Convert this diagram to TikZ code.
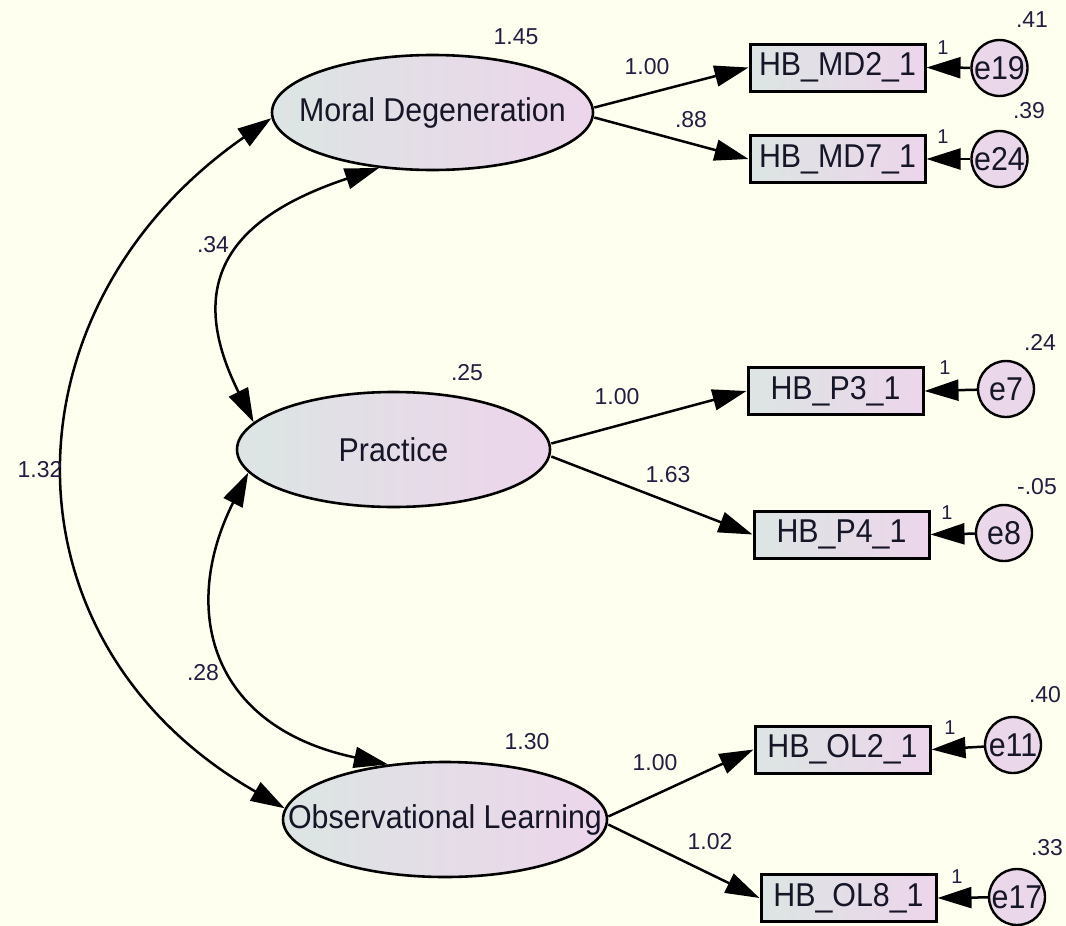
\documentclass[tikz,border=0pt]{standalone}
\usepackage{fontspec}
\setmainfont{Liberation Sans}
\newfontfamily\namefont{Liberation Sans}[FakeStretch=0.92]
\usetikzlibrary{shapes.geometric,arrows.meta}
\definecolor{paper}{RGB}{255,255,240}
\definecolor{shadeL}{RGB}{220,229,227}
\definecolor{shadeR}{RGB}{237,213,235}
\definecolor{errfill}{RGB}{234,216,234}
\definecolor{ink}{RGB}{22,22,40}
\definecolor{numink}{RGB}{35,30,65}
\begin{document}
\begin{tikzpicture}[x=1pt,y=-1pt,
  nametext/.style={font=\namefont\fontsize{33}{36}\selectfont,text=ink},
  latent/.style={ellipse,draw=black,line width=2.6pt,left color=shadeL,right color=shadeR,inner sep=0pt},
  observed/.style={rectangle,draw=black,line width=3pt,left color=shadeL,right color=shadeR,
    minimum width=175pt,minimum height=47pt,inner sep=0pt,nametext},
  errterm/.style={circle,draw=black,line width=2.4pt,fill=errfill,minimum size=56pt,inner sep=0pt},
  est/.style={font=\fontsize{23}{25}\selectfont,text=numink,inner sep=0pt},
  fixone/.style={font=\fontsize{20}{22}\selectfont,text=numink,inner sep=0pt},
  loading/.style={line width=2.5pt,-{Triangle[length=34pt,width=21pt]}},
  cov/.style={line width=2.5pt,{Triangle[length=34pt,width=21pt]}-{Triangle[length=34pt,width=21pt]}},
]
% canvas
\fill[paper] (0,0) rectangle (1066,926);
\useasboundingbox (0,0) rectangle (1066,926);

% latent factors
\node[latent,minimum width=321pt,minimum height=115pt,label={[nametext]center:Moral Degeneration}] (md) at (432.5,112.5) {};
\node[latent,minimum width=313pt,minimum height=115pt,label={[nametext]center:Practice}] (pr) at (393.5,449.5) {};
\node[latent,minimum width=324pt,minimum height=115pt,label={[nametext]center:Observational Learning}] (ol) at (445,819.5) {};

% indicators
\node[observed] (md2) at (837.5,67.5) {HB\_MD2\_1};
\node[observed] (md7) at (837.5,159) {HB\_MD7\_1};
\node[observed] (p3) at (835.5,391) {HB\_P3\_1};
\node[observed] (p4) at (841.5,534.5) {HB\_P4\_1};
\node[observed] (ol2) at (842.5,749.5) {HB\_OL2\_1};
\node[observed] (ol8) at (848.5,898) {HB\_OL8\_1};

% error terms
\node[errterm,label={[nametext]center:e19}] (e19) at (999.5,68) {};
\node[errterm,label={[nametext]center:e24}] (e24) at (999.5,159) {};
\node[errterm,label={[nametext]center:e7}] (e7) at (1006,389) {};
\node[errterm,label={[nametext]center:e8}] (e8) at (1004,533) {};
\node[errterm,label={[nametext]center:e11}] (e11) at (1013,745) {};
\node[errterm,label={[nametext]center:e17}] (e17) at (1017,897) {};

% factor loadings
\draw[loading] ([yshift=5pt]md.east) -- (md2.west);
\draw[loading] ([yshift=-5pt]md.east) -- (md7.west);
\draw[loading] ([yshift=6pt]pr.east) -- (p3.west);
\draw[loading] ([yshift=-7pt]pr.east) -- (p4.west);
\draw[loading] ([yshift=3pt]ol.east) -- (ol2.west);
\draw[loading] ([yshift=-5pt]ol.east) -- (ol8.west);

% error paths
\draw[loading] (e19) -- (md2.east);
\draw[loading] (e24) -- (md7.east);
\draw[loading] (e7) -- (p3.east);
\draw[loading] (e8) -- (p4.east);
\draw[loading] (e11) -- (ol2.east);
\draw[loading] (e17) -- (ol8.east);

% covariances
\draw[cov] (md.182) .. controls +(-273,190) and +(-290,-166) .. (ol.176);
\draw[cov] (md.226.6) .. controls +(-150,50) and +(-70,-140) .. (pr.169);
\draw[cov] (pr.189) .. controls +(-68,135) and +(-180,-38) .. (ol.136.3);

% variances
\node[est] (vmd) at (516,37) {1.45};
\node[est] (vpr) at (467,373) {.25};
\node[est] (vol) at (527,742) {1.30};
\node[est] (ve19) at (1032,20) {.41};
\node[est] (ve24) at (1029,111) {.39};
\node[est] (ve7) at (1040,342) {.24};
\node[est] (ve8) at (1037,487) {-.05};
\node[est] (ve11) at (1045,695) {.40};
\node[est] (ve17) at (1047,848) {.33};

% loading estimates
\node[est] (lmd2) at (647,67) {1.00};
\node[est] (lmd7) at (691,120) {.88};
\node[est] (lp3) at (617,397) {1.00};
\node[est] (lp4) at (668,475) {1.63};
\node[est] (lol2) at (655,763) {1.00};
\node[est] (lol8) at (710,842) {1.02};

% covariance estimates
\node[est] (c13) at (40,470) {1.32};
\node[est] (c12) at (213,245) {.34};
\node[est] (c23) at (203,673) {.28};

% fixed error weights
\node[fixone] (f19) at (943,48) {1};
\node[fixone] (f24) at (943,137) {1};
\node[fixone] (f7) at (945,368) {1};
\node[fixone] (f8) at (947,513) {1};
\node[fixone] (f11) at (950,728) {1};
\node[fixone] (f17) at (957,877) {1};
\end{tikzpicture}
\end{document}
